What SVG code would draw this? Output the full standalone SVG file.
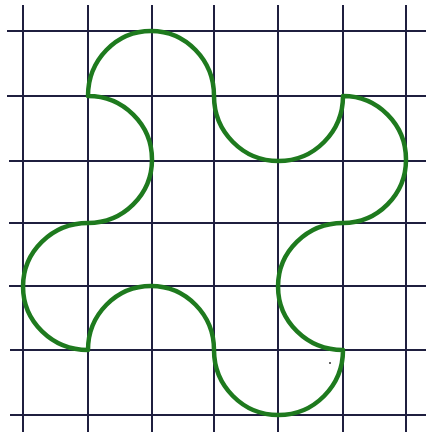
<svg xmlns="http://www.w3.org/2000/svg" width="426" height="436" viewBox="0 0 426 436">
<style>
.grid line{stroke:#1f1f3f;stroke-width:2}
.curve{fill:none;stroke:#1e7a1e;stroke-width:4.5;stroke-linejoin:round}
</style>
<rect width="426" height="436" fill="#fff"/>
<g id="grid" class="grid">
<line x1="23" y1="5" x2="23" y2="432"/>
<line x1="88" y1="5" x2="88" y2="432"/>
<line x1="152" y1="5" x2="152" y2="432"/>
<line x1="214" y1="5" x2="214" y2="432"/>
<line x1="278" y1="5" x2="278" y2="432"/>
<line x1="343" y1="5" x2="343" y2="432"/>
<line x1="406" y1="5" x2="406" y2="432"/>
<line x1="7" y1="31" x2="426" y2="31"/>
<line x1="7" y1="96" x2="426" y2="96"/>
<line x1="9" y1="161" x2="426" y2="161"/>
<line x1="9" y1="223" x2="426" y2="223"/>
<line x1="9" y1="286" x2="426" y2="286"/>
<line x1="10" y1="350" x2="426" y2="350"/>
<line x1="10" y1="415" x2="426" y2="415"/>
</g>
<g id="curve">
<path class="curve" d="M88 96 A63 65 0 0 1 214 96 A64.5 65 0 0 0 343 96 A63 63.5 0 0 1 343 223 A65 63.5 0 0 0 343 350 A64.5 65 0 0 1 214 350 A63 64 0 0 0 88 350 A65 63.5 0 0 1 88 223 A64 63.5 0 0 0 88 96 Z"/>
</g>
<circle cx="330" cy="363" r="1" fill="#333"/>
</svg>
